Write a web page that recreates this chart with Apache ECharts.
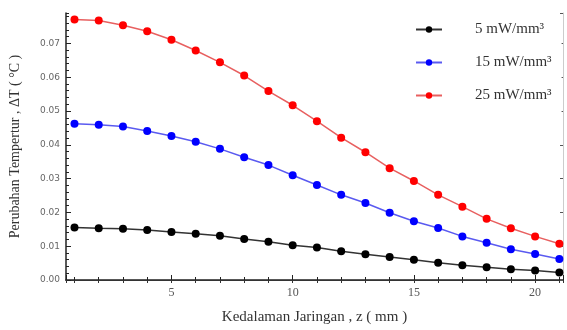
<!DOCTYPE html>
<html>
<head>
<meta charset="utf-8">
<script src="https://cdn.jsdelivr.net/npm/echarts@6/dist/echarts.min.js"></script>
<style>
  html, body { margin: 0; padding: 0; background: #fff; }
  #chart { width: 567px; height: 330px; }
</style>
</head>
<body>
<div id="chart"></div>
<script>
// kedalaman z (mm)
var depth = [1, 2, 3, 4, 5, 6, 7, 8, 9, 10, 11, 12, 13, 14, 15, 16, 17, 18, 19, 20, 21];
var names = ['5 mW/mm³', '15 mW/mm³', '25 mW/mm³'];
// perubahan temperatur (°C)
var dT5 = [0.0155, 0.0153, 0.0152, 0.0148, 0.0142, 0.0137, 0.0131, 0.0121, 0.0113, 0.0103, 0.0096,
           0.0085, 0.0076, 0.0068, 0.0060, 0.0051, 0.0044, 0.0038, 0.0032, 0.0028, 0.0022];
var dT15 = [0.0462, 0.0459, 0.0454, 0.0441, 0.0426, 0.0409, 0.0388, 0.0363, 0.0340, 0.0310, 0.0281,
            0.0252, 0.0228, 0.0199, 0.0174, 0.0154, 0.0129, 0.0110, 0.0091, 0.0077, 0.0062];
var dT25 = [0.0771, 0.0768, 0.0754, 0.0736, 0.0711, 0.0679, 0.0644, 0.0605, 0.0559, 0.0517, 0.0470,
            0.0421, 0.0378, 0.0331, 0.0293, 0.0252, 0.0217, 0.0181, 0.0153, 0.0129, 0.0107];

var myChart = echarts.init(document.getElementById('chart'));

function pairs(vals) {
    return depth.map(function (z, i) { return [z, vals[i]]; });
}

var serif = 'Liberation Serif';
var xMin = 0.65, xMax = 21.15;
var yMin = 0, yMax = 0.079;

function line(name, vals, dot, stroke) {
    return {
        name: name,
        type: 'line',
        data: pairs(vals),
        symbol: 'circle',
        symbolSize: 8,
        showSymbol: true,
        itemStyle: { color: dot },
        lineStyle: { color: stroke, width: 1.5 },
        emphasis: { disabled: true }
    };
}

var option = {
    animation: false,
    backgroundColor: '#fff',
    grid: { left: 65, right: 4, top: 13, bottom: 45 },
    legend: {
        orient: 'vertical',
        left: 408,
        top: 15,
        itemWidth: 26,
        itemHeight: 8,
        itemGap: 18,
        padding: [7, 10, 10, 7],
        backgroundColor: '#fff',
        z: 10,
        data: names,
        textStyle: {
            fontFamily: serif,
            fontSize: 15,
            color: '#333',
            padding: [0, 0, 0, 28]
        }
    },
    xAxis: [
        {
            type: 'value', position: 'bottom', min: xMin, max: xMax, splitNumber: 4,
            name: 'Kedalaman Jaringan , z ( mm )',
            nameLocation: 'middle', nameGap: 30,
            nameTextStyle: { fontFamily: serif, fontSize: 15, color: '#333' },
            axisLine: { lineStyle: { color: '#222', width: 1.5 } },
            axisTick: { inside: true, length: 5, lineStyle: { color: '#222' } },
            axisLabel: {
                fontFamily: serif, fontSize: 12, color: '#555', margin: 7,
                formatter: function (v) { return Math.abs(v % 5) < 1e-6 ? String(v) : ''; }
            },
            splitLine: { show: false }
        },
        {
            type: 'value', position: 'bottom', min: xMin, max: xMax, splitNumber: 20,
            axisLine: { show: false },
            axisTick: { inside: true, length: 3, lineStyle: { color: '#222' } },
            axisLabel: { show: false },
            splitLine: { show: false }
        },
        {
            type: 'value', position: 'top', min: xMin, max: xMax, splitNumber: 20,
            axisLine: { lineStyle: { color: '#333', width: 1 } },
            axisTick: { inside: true, length: 3, lineStyle: { color: '#333' } },
            axisLabel: { show: false },
            splitLine: { show: false }
        }
    ],
    yAxis: [
        {
            type: 'value', position: 'left', min: yMin, max: yMax, splitNumber: 8,
            name: 'Perubahan Tempertur , ΔT ( °C )',
            nameLocation: 'middle', nameGap: 44, nameRotate: 90,
            nameTextStyle: { fontFamily: serif, fontSize: 14, color: '#333' },
            axisLine: { lineStyle: { color: '#222', width: 1.5 } },
            axisTick: { inside: true, length: 5, lineStyle: { color: '#222' } },
            axisLabel: {
                fontFamily: 'DejaVu Sans', fontSize: 9, color: '#666', margin: 6,
                showMaxLabel: false,
                formatter: function (v) { return v.toFixed(2); }
            },
            splitLine: { show: false }
        },
        {
            type: 'value', position: 'left', min: yMin, max: yMax, splitNumber: 40,
            axisLine: { show: false },
            axisTick: { inside: true, length: 3, lineStyle: { color: '#222' } },
            axisLabel: { show: false },
            splitLine: { show: false }
        },
        {
            type: 'value', position: 'right', min: yMin, max: yMax, splitNumber: 8,
            axisLine: { lineStyle: { color: '#ccc', width: 1 } },
            axisTick: { inside: true, length: 3, lineStyle: { color: '#555' } },
            axisLabel: { show: false },
            splitLine: { show: false }
        }
    ],
    series: [
        line(names[0], dT5, '#000', '#333'),
        line(names[1], dT15, '#0000ff', '#5a5af0'),
        line(names[2], dT25, '#ff0000', '#e86060')
    ]
};

myChart.setOption(option);
</script>
</body>
</html>
